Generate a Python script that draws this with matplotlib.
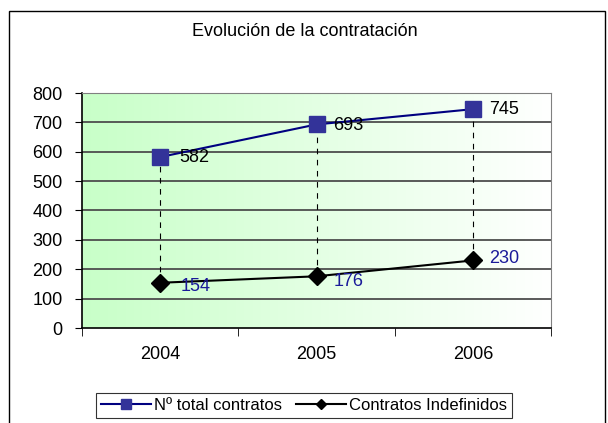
import numpy as np
from matplotlib import pyplot as plt
from matplotlib.patches import Rectangle

years = ["2004", "2005", "2006"]
total = [582, 693, 745]
indefinidos = [154, 176, 230]
yticks = [0, 100, 200, 300, 400, 500, 600, 700, 800]

plt.rcParams['font.family'] = ['Liberation Sans', 'DejaVu Sans']

fig = plt.figure(figsize=(6.08, 4.23), dpi=100)
W, H = 608, 423

# outer chart border (bottom edge falls outside the picture)
fig.patches.append(Rectangle((9 / W, -0.05), 596 / W, 1.05 - 11 / H,
                             transform=fig.transFigure, fill=False,
                             edgecolor="black", linewidth=1.0))

ax = fig.add_axes([82 / W, 1 - 328 / H, 469 / W, 235 / H])
x = np.arange(len(years))
ax.set_xlim(-0.5, 2.5)
ax.set_ylim(0, 800)

# green to white gradient background
grad = np.linspace(0, 1, 256).reshape(1, -1)
cols = np.zeros((1, 256, 3))
start = np.array([200, 255, 200]) / 255
cols[0] = start + (1 - start) * grad.T
ax.imshow(cols, extent=[-0.5, 2.5, 0, 800], aspect="auto", zorder=0)

for v in yticks[1:]:
    ax.axhline(v, color="#4d4d4d", linewidth=1.3, zorder=1)

# high-low lines
for xi, lo, hi in zip(x, indefinidos, total):
    ax.plot([xi, xi], [lo, hi], color="black", linestyle=(0, (5, 5)),
            linewidth=0.8, zorder=2)

ax.plot(x, total, color="#000080", linewidth=1.5, marker="s", markersize=11,
        markerfacecolor="#333399", markeredgecolor="#333399",
        label="Nº total contratos", zorder=3)
ax.plot(x, indefinidos, color="black", linewidth=1.5, marker="D", markersize=9,
        markerfacecolor="black", label="Contratos Indefinidos", zorder=3)

for xi, v, dx in zip(x, total, [14, 12, 12]):
    ax.annotate(str(v), (xi, v), xytext=(dx, -0.5), textcoords="offset points",
                ha="left", va="center", fontsize=13, color="black", zorder=4)
for xi, v, dx, dy in zip(x, indefinidos, [15, 12, 12], [-3, -4, 1.5]):
    ax.annotate(str(v), (xi, v), xytext=(dx, dy), textcoords="offset points",
                ha="left", va="center", fontsize=13, color="#1a1a99", zorder=4)

ax.set_yticks(yticks)
ax.tick_params(axis="y", direction="out", length=5, labelsize=13, pad=9)
ax.set_xticks(x)
ax.set_xticklabels(years, fontsize=13)
ax.set_xticks([-0.5, 0.5, 1.5, 2.5], minor=True)
ax.tick_params(axis="x", which="major", length=0, pad=13)
ax.tick_params(axis="x", which="minor", direction="out", length=6)

for s in ["top", "right"]:
    ax.spines[s].set_color("#808080")
for s in ["left", "bottom"]:
    ax.spines[s].set_color("black")
    ax.spines[s].set_linewidth(1.2)

fig.text(305 / W, 1 - 32 / H, "Evolución de la contratación", ha="center",
         va="center", fontsize=13)

leg = fig.legend(loc="center", bbox_to_anchor=(304 / W, 1 - 405 / H), ncol=2,
                 fontsize=12, frameon=True, fancybox=False, edgecolor="black",
                 handlelength=3, handletextpad=0.2, columnspacing=0.8,
                 borderpad=0.3, markerscale=0.6)
leg.get_frame().set_linewidth(0.8)

fig.savefig("out.png", dpi=100)
